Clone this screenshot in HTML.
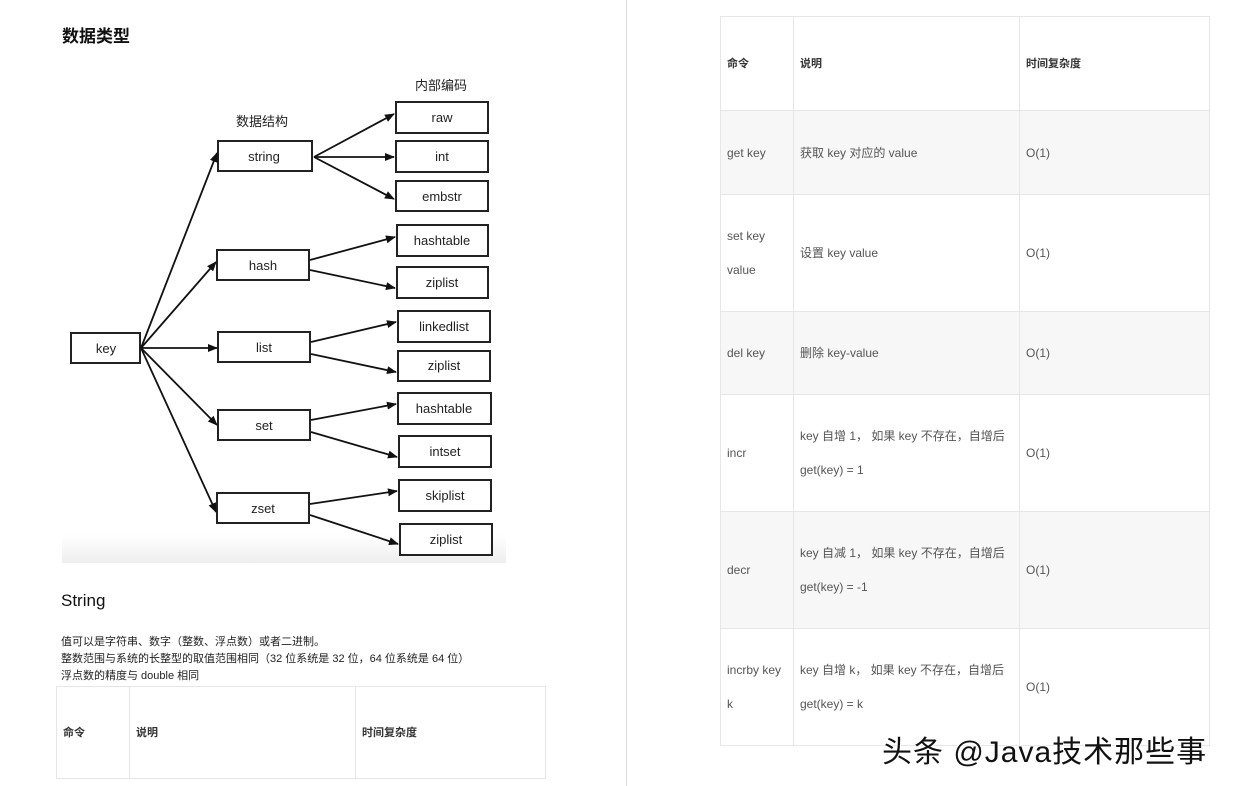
<!DOCTYPE html>
<html><head><meta charset="utf-8"><style>
body{margin:0;width:1240px;height:786px;background:#fff;position:relative;overflow:hidden;font-family:"Liberation Sans","Noto Sans CJK SC",sans-serif;color:#333}
.a{position:absolute}
table{border-collapse:collapse;position:absolute;font-size:12px;color:#555}
td{border:1px solid #e6e6e6;padding:0 0 0 6px;vertical-align:middle;line-height:34px}
tr.g td{background:#f7f7f7}
tr.h td{font-weight:bold;color:#333}
</style></head><body>
<div class="a" style="left:62px;top:22px;font-size:17px;font-weight:bold;color:#111">数据类型</div>
<div class="a" style="left:626px;top:0;width:1px;height:786px;background:#ddd"></div>
<div class="a" style="left:62px;top:535px;width:444px;height:28px;background:linear-gradient(#fff,#eee)"></div>
<svg class="a" style="left:0;top:0" width="520" height="570" font-family="Liberation Sans, Noto Sans CJK SC, sans-serif" font-size="13" text-anchor="middle">
<defs><marker id="m" markerWidth="10" markerHeight="8" refX="9" refY="4" orient="auto" markerUnits="userSpaceOnUse"><path d="M0,0 L10,4 L0,8z" fill="#111"/></marker></defs>
<g stroke="#222" stroke-width="2" fill="#fff">
<rect x="71" y="333" width="69" height="30"/>
<rect x="218" y="141" width="94" height="30"/><rect x="217" y="250" width="92" height="30"/><rect x="218" y="332" width="92" height="30"/><rect x="218" y="410" width="92" height="30"/><rect x="217" y="493" width="92" height="30"/>
<rect x="396" y="102" width="92" height="31"/><rect x="396" y="141" width="92" height="31"/><rect x="396" y="181" width="92" height="30"/><rect x="397" y="225" width="91" height="31"/><rect x="397" y="267" width="91" height="31"/><rect x="398" y="311" width="92" height="31"/><rect x="398" y="351" width="92" height="30"/><rect x="398" y="393" width="93" height="31"/><rect x="399" y="436" width="92" height="31"/><rect x="399" y="480" width="92" height="31"/><rect x="400" y="524" width="92" height="31"/>
</g>
<g stroke="#111" stroke-width="1.8" marker-end="url(#m)">
<line x1="141" y1="348" x2="217" y2="153"/><line x1="141" y1="348" x2="216" y2="262"/><line x1="141" y1="348" x2="217" y2="348"/><line x1="141" y1="348" x2="217" y2="425"/><line x1="141" y1="348" x2="216" y2="512"/>
<line x1="314" y1="157" x2="394" y2="114"/><line x1="314" y1="157" x2="394" y2="157"/><line x1="314" y1="157" x2="394" y2="199"/>
<line x1="310" y1="260" x2="395" y2="237"/><line x1="310" y1="270" x2="395" y2="288"/>
<line x1="311" y1="342" x2="396" y2="322"/><line x1="311" y1="354" x2="396" y2="372"/>
<line x1="311" y1="420" x2="396" y2="404"/><line x1="311" y1="432" x2="397" y2="457"/>
<line x1="310" y1="504" x2="397" y2="491"/><line x1="310" y1="515" x2="398" y2="544"/>
</g>
<g fill="#222">
<text x="262" y="126">数据结构</text><text x="441" y="90">内部编码</text>
<text x="106" y="353">key</text>
<text x="264" y="161">string</text><text x="263" y="270">hash</text><text x="264" y="352">list</text><text x="264" y="430">set</text><text x="263" y="513">zset</text>
<text x="442" y="122">raw</text><text x="442" y="161">int</text><text x="442" y="201">embstr</text><text x="442" y="245">hashtable</text><text x="442" y="287">ziplist</text><text x="444" y="331">linkedlist</text><text x="444" y="370">ziplist</text><text x="444" y="413">hashtable</text><text x="445" y="456">intset</text><text x="445" y="500">skiplist</text><text x="446" y="544">ziplist</text>
</g></svg>
<div class="a" style="left:61px;top:591px;font-size:17px;color:#111">String</div>
<div class="a" style="left:61px;top:634px;font-size:11px;line-height:17px;color:#222">值可以是字符串、数字（整数、浮点数）或者二进制。<br>整数范围与系统的长整型的取值范围相同（32 位系统是 32 位，64 位系统是 64 位）<br>浮点数的精度与 double 相同</div>
<table style="left:56px;top:686px;width:490px;font-size:11px;color:#333">
<tr class="h" style="height:92px"><td style="width:66px">命令</td><td style="width:219px">说明</td><td>时间复杂度</td></tr></table>
<table style="left:720px;top:16px;width:490px">
<tr class="h" style="height:94px;font-size:11px"><td style="width:66px">命令</td><td style="width:219px">说明</td><td>时间复杂度</td></tr>
<tr class="g" style="height:84px"><td>get key</td><td>获取 key 对应的 value</td><td>O(1)</td></tr>
<tr style="height:117px"><td>set key<br>value</td><td>设置 key value</td><td>O(1)</td></tr>
<tr class="g" style="height:83px"><td>del key</td><td>删除 key-value</td><td>O(1)</td></tr>
<tr style="height:117px"><td>incr</td><td>key 自增 1， 如果 key 不存在，自增后<br>get(key) = 1</td><td>O(1)</td></tr>
<tr class="g" style="height:117px"><td>decr</td><td>key 自减 1， 如果 key 不存在，自增后<br>get(key) = -1</td><td>O(1)</td></tr>
<tr style="height:117px"><td>incrby key<br>k</td><td>key 自增 k， 如果 key 不存在，自增后<br>get(key) = k</td><td>O(1)</td></tr>
</table>
<div class="a" style="left:882px;top:727px;font-size:30px;letter-spacing:1px;color:#111;text-shadow:1px 1px 0 #fff,-1px -1px 0 #fff,1px -1px 0 #fff,-1px 1px 0 #fff">头条 @Java技术那些事</div>
</body></html>
